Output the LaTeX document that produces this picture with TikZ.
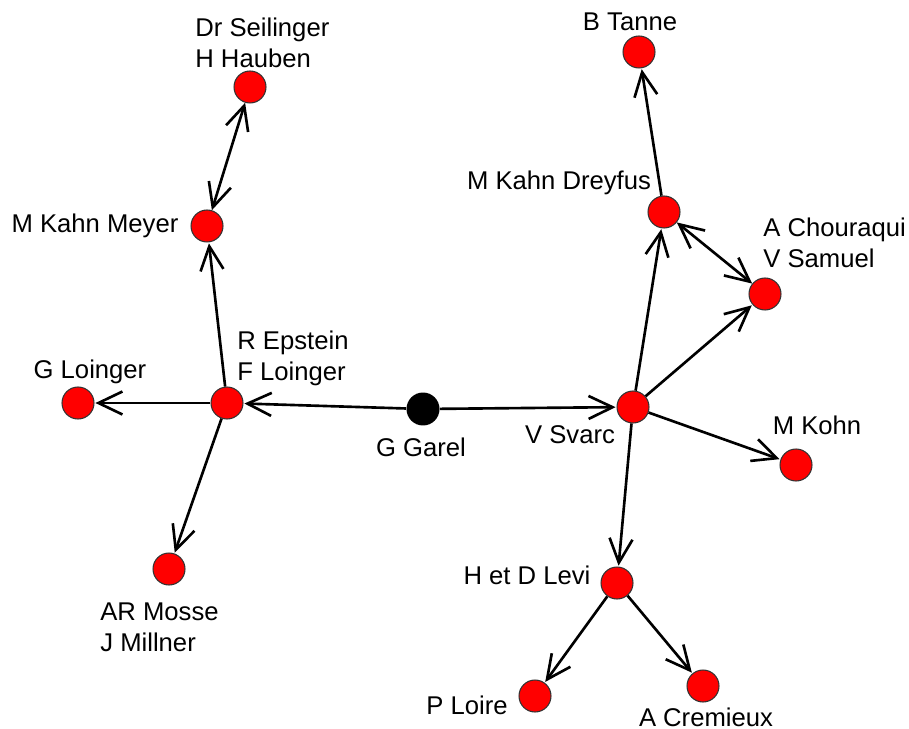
\documentclass[tikz,border=0pt]{standalone}
\usepackage{fontspec}
\setmainfont{Liberation Sans}
\usetikzlibrary{arrows.meta}

\begin{document}
\begin{tikzpicture}[x=0.02cm, y=-0.02cm]
	\tikzstyle{personne}=[circle, draw=black!80, fill=red, line width=0.6pt, minimum size=0.64cm, inner sep=0pt]
	\tikzstyle{chef}=[circle, fill=black, minimum size=0.66cm, inner sep=0pt]
	\tikzstyle{nom}=[align=left, font=\fontsize{14.6}{17.6}\selectfont, inner sep=0pt]
	\tikzstyle{fleche}=[-{Straight Barb[length=4.8mm, width=4.6mm]}, line width=1.5pt, shorten >=0.5pt]
	\tikzstyle{double}=[{Straight Barb[length=4.8mm, width=4.6mm]}-{Straight Barb[length=4.8mm, width=4.6mm]}, line width=1.5pt]
	\useasboundingbox (0,0) rectangle (909,729);

	% reseau
	\node[chef] (garel) at (423,409) {};
	\node[personne] (epstein) at (227,403) {};
	\node[personne] (gloinger) at (78,403) {};
	\node[personne] (meyer) at (207,226) {};
	\node[personne] (seilinger) at (250,87) {};
	\node[personne] (mosse) at (169,569) {};
	\node[personne] (svarc) at (633,407) {};
	\node[personne] (dreyfus) at (664,212) {};
	\node[personne] (tanne) at (639,52) {};
	\node[personne] (chouraqui) at (765,294) {};
	\node[personne] (kohn) at (796,465) {};
	\node[personne] (levi) at (617,583) {};
	\node[personne] (loire) at (535,696) {};
	\node[personne] (cremieux) at (703,686) {};

	% noms
	\node[nom] (nGarel) at (421,447) {G Garel};
	\node[nom, anchor=west] (nEpstein) at (237,358) {R Epstein\\F Loinger};
	\node[nom] (nGloinger) at (90,372) {G Loinger};
	\node[nom] (nMeyer) at (95,226) {M Kahn Meyer};
	\node[nom, anchor=west] (nSeilinger) at (195,43) {Dr Seilinger\\H Hauben};
	\node[nom, anchor=west] (nMosse) at (100,627) {AR Mosse\\J Millner};
	\node[nom] (nSvarc) at (570,435) {V Svarc};
	\node[nom] (nDreyfus) at (559,183) {M Kahn Dreyfus};
	\node[nom] (nTanne) at (630,22) {B Tanne};
	\node[nom, anchor=west] (nChouraqui) at (763,243) {A Chouraqui\\V Samuel};
	\node[nom] (nKohn) at (817,425) {M Kohn};
	\node[nom] (nLevi) at (527,575) {H et D Levi};
	\node[nom] (nLoire) at (467,705) {P Loire};
	\node[nom] (nCremieux) at (706,717) {A Cremieux};

	% liens
	\draw[fleche] (garel) -- (epstein);
	\draw[fleche] (garel) -- (svarc);
	\draw[fleche] (epstein) -- (gloinger);
	\draw[fleche] (epstein) -- (meyer);
	\draw[fleche] (epstein) -- (mosse);
	\draw[double] (meyer) -- (seilinger);
	\draw[fleche] (svarc) -- (dreyfus);
	\draw[fleche] (svarc) -- (chouraqui);
	\draw[fleche] (svarc) -- (kohn);
	\draw[fleche] (svarc) -- (levi);
	\draw[fleche] (dreyfus) -- (tanne);
	\draw[double] (dreyfus) -- (chouraqui);
	\draw[fleche] (levi) -- (loire);
	\draw[fleche] (levi) -- (cremieux);
\end{tikzpicture}
\end{document}
